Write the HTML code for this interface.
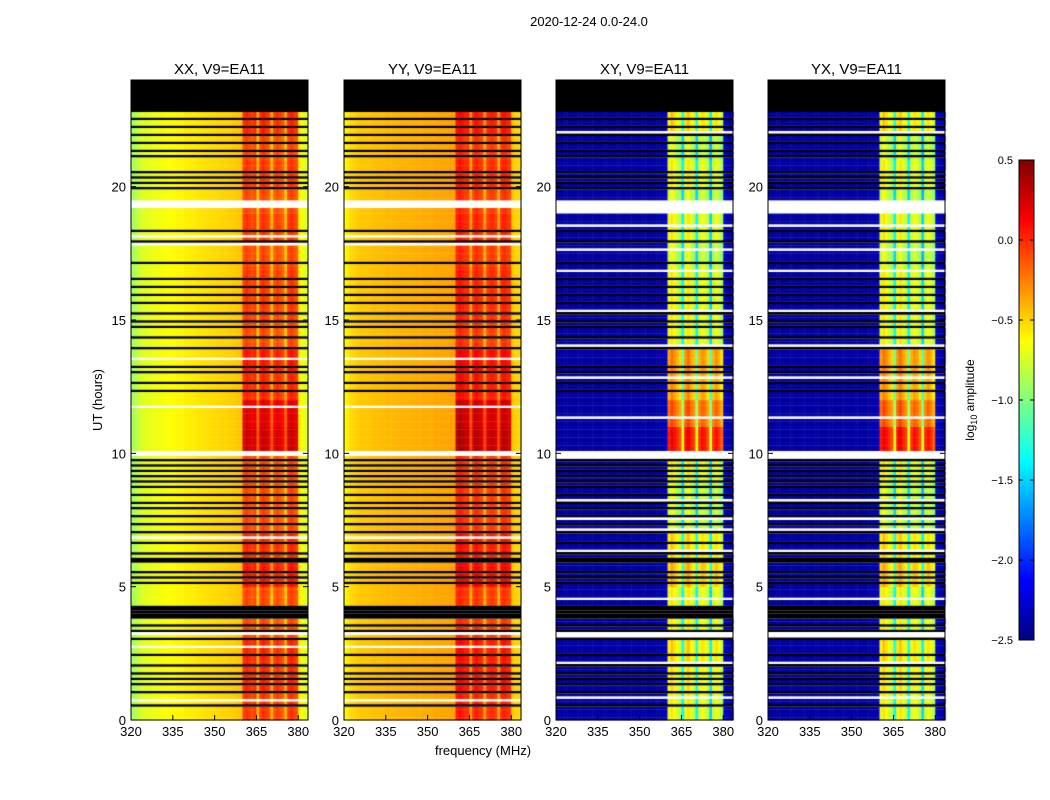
<!DOCTYPE html>
<html><head><meta charset="utf-8"><style>
body{margin:0;background:#fff;font-family:"Liberation Sans","DejaVu Sans",sans-serif;}
#wrap{position:relative;width:1050px;height:800px;overflow:hidden;}
canvas{position:absolute;left:0;top:0;}
</style></head><body>
<div id="wrap">
<canvas id="c" width="1050" height="800"></canvas>
<svg id="s" width="1050" height="800" style="position:absolute;left:0;top:0"></svg>
</div>
<script>
// ---- data ----
const panelTitles = ["XX, V9=EA11","YY, V9=EA11","XY, V9=EA11","YX, V9=EA11"];
const freqTicks = [320,335,350,365,380];
const timeTicks = [0,5,10,15,20];
const cbarTicks = [0.5,0.0,-0.5,-1.0,-1.5,-2.0,-2.5];
// spectrum per 1 MHz channel, 320..383
const specXX = [-0.9,-0.85,-0.8,-0.75,-0.72,-0.7,-0.7,-0.68,-0.68,-0.66,-0.66,-0.65,-0.64,-0.63,-0.62,-0.62,-0.6,-0.6,-0.6,-0.58,-0.58,-0.57,-0.57,-0.56,-0.55,-0.55,-0.54,-0.53,-0.53,-0.52,-0.52,-0.51,-0.5,-0.5,-0.5,-0.48,-0.48,-0.47,-0.46,-0.45,
 -0.1,-0.05,-0.1,-0.15,-0.1,-0.45,-0.1,-0.05,-0.1,-0.15,-0.45,-0.15,-0.1,-0.15,-0.2,-0.45,-0.1,-0.05,-0.1,-0.15,-0.6,-0.65,-0.7,-0.7];
const specYY = [-0.6,-0.56,-0.52,-0.5,-0.48,-0.47,-0.46,-0.46,-0.45,-0.45,-0.44,-0.44,-0.43,-0.43,-0.43,-0.42,-0.42,-0.42,-0.41,-0.41,-0.41,-0.4,-0.4,-0.4,-0.4,-0.39,-0.39,-0.39,-0.38,-0.38,-0.38,-0.38,-0.37,-0.37,-0.37,-0.36,-0.36,-0.36,-0.35,-0.35,
 0.0,0.05,0.0,-0.05,-0.05,-0.4,-0.05,0.0,-0.05,-0.1,-0.4,-0.1,-0.05,-0.05,-0.1,-0.4,-0.05,0.0,-0.05,-0.1,-0.45,-0.5,-0.5,-0.5];
const specXY = [-2.4,-2.4,-2.4,-2.4,-2.4,-2.4,-2.4,-2.4,-2.4,-2.4,-2.4,-2.4,-2.4,-2.4,-2.4,-2.4,-2.4,-2.4,-2.4,-2.4,-2.4,-2.4,-2.4,-2.4,-2.4,-2.4,-2.4,-2.4,-2.4,-2.4,-2.4,-2.4,-2.4,-2.4,-2.4,-2.4,-2.4,-2.38,-2.35,-2.3,
 -0.8,-0.65,-0.75,-0.85,-0.95,-1.5,-0.75,-0.65,-0.8,-0.9,-1.5,-0.85,-0.75,-0.8,-0.95,-1.6,-0.85,-0.75,-0.85,-1.0,-2.3,-2.35,-2.4,-2.4];
const specYX = specXY;
// extra band intensity per hour (0..22)
const bandLevelXX = [0.05,0.1,0.1,0.0,0.0,0.15,0.1,0.0,0.0,0.0,0.35,0.3,0.1,0.15,0.0,0.05,0.05,0.0,0.05,0.0,0.05,0.0,0.1];
const bandLevelXY = [0.1,0.15,0.2,0.1,0.1,0.3,0.2,0.0,0.0,0.1,0.85,0.6,0.4,0.45,0.1,0.1,0.1,0.0,0.1,0.0,0.1,0.0,0.2];
// flagged rows (hours)
const blackTimes = [22.5,22.2,21.9,21.6,21.3,21.1,20.5,20.3,20.1,19.9,18.3,17.9,17.1,16.5,16.2,15.9,15.6,15.2,14.9,14.7,14.3,13.9,13.2,13.0,12.6,12.3,9.7,9.5,9.3,9.1,8.9,8.7,8.4,8.1,7.9,7.6,7.3,7.0,6.6,6.2,6.0,5.9,5.5,5.3,5.1,4.2,4.1,4.0,3.9,3.8,3.5,3.3,3.0,2.4,2.0,1.7,1.5,1.3,1.0,0.5];
const whiteTimes = [19.2,19.3,19.4,18.1,17.8,13.5,11.7,9.9,10.0,6.8,3.2,2.7,0.7];
const whiteTimesCross = [22.0,19.0,19.1,19.2,19.3,19.4,18.5,17.6,16.8,15.3,14.0,12.8,11.3,9.8,9.9,10.0,8.2,7.5,7.1,6.3,4.5,3.2,3.1,2.1,0.75,0.8];
const tStart = 0, tEnd = 24, tData = 22.8;
const fMin = 320, fMax = 383.5;

// ---- layout ----
const panelsX = [131,344,556,768], pw = 177, py0 = 80, py1 = 720;
const xs = (f,i)=> panelsX[i] + (f-fMin)/(fMax-fMin)*pw;
const ys = t => py1 - (t-tStart)/(tEnd-tStart)*(py1-py0);
const vmin=-2.5, vmax=0.5;
function jet(v){
  let x=(v-vmin)/(vmax-vmin); x=Math.max(0,Math.min(1,x));
  const c=t=>Math.max(0,Math.min(1,t));
  const r=c(1.5-Math.abs(4*x-3)), g=c(1.5-Math.abs(4*x-2)), b=c(1.5-Math.abs(4*x-1));
  return `rgb(${Math.round(r*255)},${Math.round(g*255)},${Math.round(b*255)})`;
}
const ctx=document.getElementById('c').getContext('2d');
const specs=[specXX,specYY,specXY,specYX];
const levels=[bandLevelXX,bandLevelXX,bandLevelXY,bandLevelXY];
const rowKey=t=>Math.round(t*10);
const blackSet=new Set(blackTimes.map(rowKey));
const whiteSet=new Set(whiteTimes.map(rowKey));
const whiteSetX=new Set(whiteTimesCross.map(rowKey));
for(let i=0;i<4;i++){
  const spec=specs[i], lev=levels[i];
  ctx.fillStyle='#000';
  ctx.fillRect(panelsX[i],py0,pw,ys(tData)-py0);
  const nRows=Math.round(tData*10);
  for(let r=0;r<nRows;r++){
    const t0=r/10, t1=(r+1)/10;
    const yA=ys(t1), yB=ys(t0);
    const cross=i>=2;
    if((cross?whiteSetX:whiteSet).has(r)){ctx.fillStyle='#fff';ctx.fillRect(panelsX[i],yA,pw,yB-yA);continue;}
    if(blackSet.has(r)){ctx.fillStyle='#000';ctx.fillRect(panelsX[i],yA,pw,yB-yA);continue;}
    const hl=lev[Math.min(lev.length-1,Math.floor(t0))];
    for(let c=0;c<spec.length;c++){
      const f=fMin+c;
      const inBand=f>=360&&f<380;
      const v=spec[c]+(inBand?hl:0);
      ctx.fillStyle=jet(v);
      const xa=xs(f,i), xb=xs(Math.min(f+1,fMax),i);
      ctx.fillRect(xa,yA,xb-xa+0.5,yB-yA+0.3);
    }
  }
}
// colorbar
const cbx=1019,cbw=15,cby0=160,cby1=640;
for(let y=cby0;y<cby1;y++){
  const v=vmax-(y-cby0)/(cby1-cby0)*(vmax-vmin);
  ctx.fillStyle=jet(v);ctx.fillRect(cbx,y,cbw,1);
}
// ---- SVG overlay ----
const s=document.getElementById('s');
const NS='http://www.w3.org/2000/svg';
function el(tag,attrs,text){const e=document.createElementNS(NS,tag);for(const k in attrs)e.setAttribute(k,attrs[k]);if(text!==undefined)e.textContent=text;s.appendChild(e);return e;}
const sup=el('text',{x:589,y:26,'font-size':13,'text-anchor':'middle'},'2020-12-24 0.0-24.0');


for(let i=0;i<4;i++){
  const fr=el('rect',{x:panelsX[i],y:py0,width:pw,height:py1-py0,fill:'none',stroke:'#000','stroke-width':1});
  
  
  const tt=el('text',{x:panelsX[i]+pw/2,y:74,'font-size':15,'text-anchor':'middle'},panelTitles[i]);
  
  
  freqTicks.forEach(f=>{
    const x=xs(f,i);
    el('line',{x1:x,x2:x,y1:py1,y2:py1-5,stroke:'#000'});
    el('line',{x1:x,x2:x,y1:py0,y2:py0+5,stroke:'#000'});
    const lb=el('text',{x:x,y:py1+16,'font-size':13,'text-anchor':'middle'},String(f));
    
    
  });
  timeTicks.forEach(t=>{
    const y=ys(t);
    el('line',{x1:panelsX[i],x2:panelsX[i]+5,y1:y,y2:y,stroke:'#000'});
    el('line',{x1:panelsX[i]+pw,x2:panelsX[i]+pw-5,y1:y,y2:y,stroke:'#000'});
    const lb=el('text',{x:panelsX[i]-5,y:y+5,'font-size':13,'text-anchor':'end'},String(t));
    
    
  });
}
const xl=el('text',{x:483,y:755,'font-size':13,'text-anchor':'middle'},'frequency (MHz)');


const yl=el('text',{x:0,y:0,'font-size':13,'text-anchor':'middle',transform:'translate(102,400) rotate(-90)'},'UT (hours)');


const cbf=el('rect',{x:cbx,y:cby0,width:cbw,height:cby1-cby0,fill:'none',stroke:'#000'});


cbarTicks.forEach(v=>{
  const y=cby0+(vmax-v)/(vmax-vmin)*(cby1-cby0);
  el('line',{x1:cbx,x2:cbx+4,y1:y,y2:y,stroke:'#000'});
  el('line',{x1:cbx+cbw,x2:cbx+cbw-4,y1:y,y2:y,stroke:'#000'});
  const lb=el('text',{x:1013,y:y+4,'font-size':11,'text-anchor':'end'},v.toFixed(1).replace('-','\u2212'));
  
  
});
const cl=el('text',{x:0,y:0,'font-size':12,'text-anchor':'middle',transform:'translate(974,400) rotate(-90)'});
cl.innerHTML='log<tspan font-size="9" dy="3">10</tspan><tspan dy="-3"> amplitude</tspan>';


</script>
</body></html>
